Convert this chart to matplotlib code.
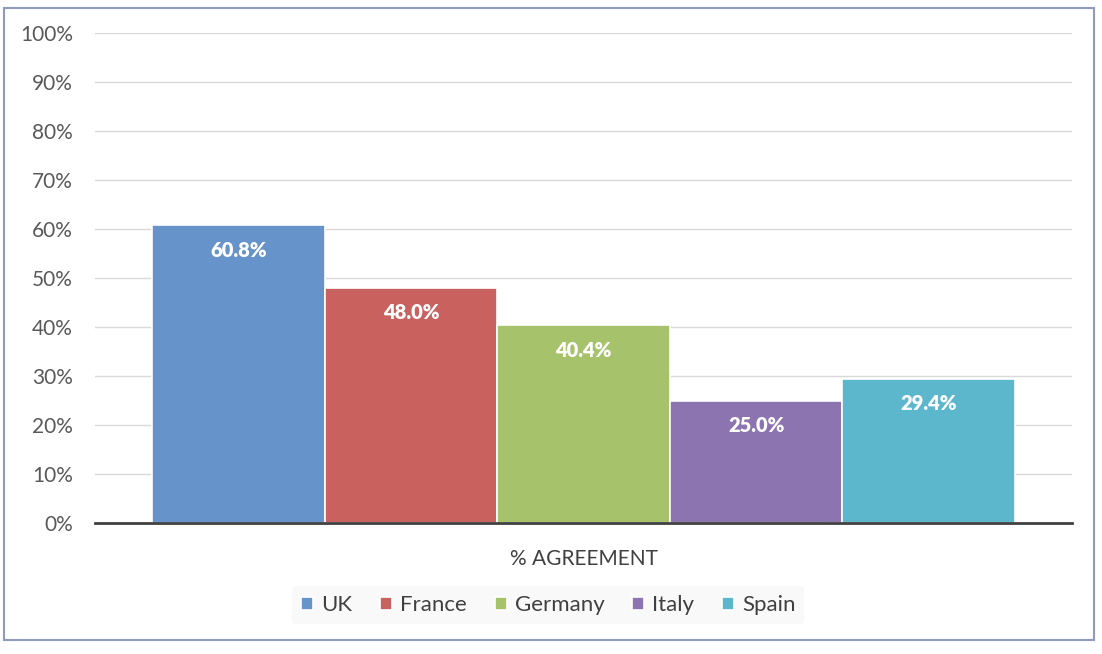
import matplotlib.pyplot as plt
from matplotlib.patches import Rectangle
from matplotlib.ticker import FuncFormatter

countries = ['UK', 'France', 'Germany', 'Italy', 'Spain']
agreement = [60.8, 48.0, 40.4, 25.0, 29.4]
colors = ['#6693CA', '#C9625F', '#A6C36C', '#8B74AF', '#5DB7CC']
category = '% AGREEMENT'

plt.rcParams['font.family'] = ['Lato', 'DejaVu Sans']

fig = plt.figure(figsize=(11.02, 6.54), dpi=100)
ax = fig.add_axes([95 / 1102, 1 - 523 / 654, 977 / 1102, 490 / 654])

x = range(len(countries))
bars = ax.bar(x, agreement, width=1.0, color=colors, edgecolor='white',
              linewidth=1.2, label=countries, zorder=3)
for b, v in zip(bars, agreement):
    ax.annotate(f'{v:.1f}%', (b.get_x() + b.get_width() / 2, v),
                xytext=(0, -25), textcoords='offset pixels',
                ha='center', va='center', color='white', fontsize=14.5,
                fontweight='heavy', zorder=4)

ax.set_xlim(-0.83, 4.83)
ax.set_ylim(0, 100)
ax.set_yticks(range(0, 101, 10))
ax.yaxis.set_major_formatter(FuncFormatter(lambda v, p: f'{v:.0f}%'))
ax.grid(axis='y', color='#D9D9D9', linewidth=1, zorder=0)
for s in ['top', 'right', 'left']:
    ax.spines[s].set_visible(False)
ax.spines['bottom'].set_color('#404040')
ax.spines['bottom'].set_linewidth(2)
ax.spines['bottom'].set_zorder(5)
ax.tick_params(axis='y', length=0, labelsize=15, labelcolor='#595959', pad=16)
ax.set_xticks([2])
ax.set_xticklabels([category])
ax.tick_params(axis='x', length=0, labelsize=15, labelcolor='#404040', pad=19)

leg = ax.legend(handles=bars, labels=countries, loc='center',
                bbox_to_anchor=(0.464, -0.168), ncol=5, frameon=True,
                fontsize=16, handlelength=0.55, handleheight=0.55,
                handletextpad=0.35, columnspacing=1.25, borderpad=0.4)
leg.get_frame().set_facecolor('#F8F8F8')
leg.get_frame().set_edgecolor('none')
for t in leg.get_texts():
    t.set_color('#404040')

fig.patches.append(Rectangle((4 / 1102, 1 - 640 / 654), 1090 / 1102, 632 / 654,
                             transform=fig.transFigure, fill=False,
                             edgecolor='#8E9BBF', linewidth=1.5))

fig.savefig('out.png', dpi=100)
